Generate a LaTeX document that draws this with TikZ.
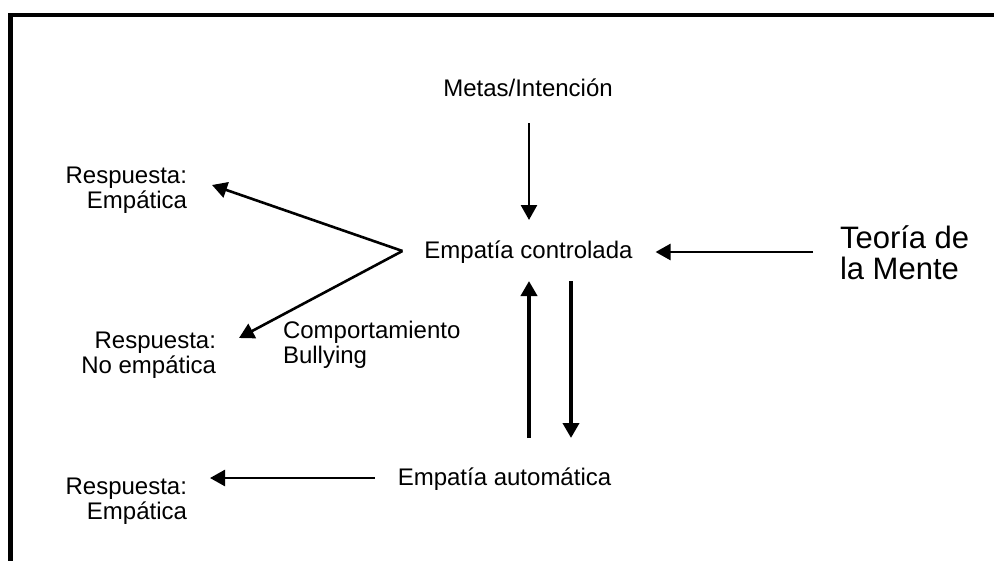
\documentclass[tikz,border=0pt]{standalone}
\usepackage{fontspec}
\setmainfont{Liberation Sans}
\usetikzlibrary{arrows.meta}

% two-line labels whose reference point is the baseline of the first line
\newcommand{\rightpair}[2]{\vtop{\halign{\hfil##\cr #1\cr #2\cr}}}
\newcommand{\leftpair}[2]{\vtop{\halign{##\hfil\cr #1\cr #2\cr}}}

\tikzset{
  lbl/.style={inner sep=0pt, outer sep=0pt, font=\fontsize{24}{25.5}\selectfont},
  biglbl/.style={inner sep=0pt, outer sep=0pt, font=\fontsize{31}{31}\selectfont},
  thinarrow/.style={line width=2.6pt, -{Triangle[width=16pt,length=15pt]}},
  boldarrow/.style={line width=4.6pt, -{Triangle[width=16pt,length=15pt]}},
  frameline/.style={line width=4.6pt, line join=miter},
}

\begin{document}
\begin{tikzpicture}[x=1pt, y=-1pt]
  \useasboundingbox (0,0) rectangle (994,560);
  \fill[white] (0,0) rectangle (994,560);

  % open frame: left and top edges
  \draw[frameline] (10.5,580) -- (10.5,15) -- (1010,15);

  % labels
  \node[lbl, anchor=base] (metas) at (528,96) {Metas/Intención};
  \node[lbl, anchor=base] (ctrl) at (528.5,258) {Empatía controlada};
  \node[lbl, anchor=base] (auto) at (504.5,485) {Empatía automática};
  \node[biglbl, anchor=base west] (teoria) at (840,248) {\leftpair{Teoría de}{la Mente}};
  \node[lbl, anchor=base east] (r1) at (187,183) {\rightpair{Respuesta:}{Empática}};
  \node[lbl, anchor=base east] (r2) at (216,348) {\rightpair{Respuesta:}{No empática}};
  \node[lbl, anchor=base east] (r3) at (187,494) {\rightpair{Respuesta:}{Empática}};
  \node[lbl, anchor=base west] (bully) at (283,338) {\leftpair{Comportamiento}{Bullying}};

  % branching point left of the controlled empathy label
  \coordinate (fork) at ([shift={(-22,-7)}]ctrl.base west);

  % connectors
  \draw[thinarrow] ([shift={(1,27)}]metas.base) -- ([shift={(0.5,-38)}]ctrl.base);
  \draw[thinarrow] ([shift={(-27,4)}]teoria.base west) -- ([shift={(23,-6)}]ctrl.base east);
  \draw[thinarrow] (fork) -- ([shift={(25,2)}]r1.base east);
  \draw[thinarrow] (fork) -- ([shift={(23,-10)}]r2.base east);
  \draw[boldarrow] ([shift={(24.5,-47)}]auto.base) -- ([shift={(0.5,23)}]ctrl.base);
  \draw[boldarrow] ([shift={(42.5,23)}]ctrl.base) -- ([shift={(66.5,-47)}]auto.base);
  \draw[thinarrow] ([shift={(-23,-7)}]auto.base west) -- ([shift={(23,-16)}]r3.base east);
\end{tikzpicture}
\end{document}
